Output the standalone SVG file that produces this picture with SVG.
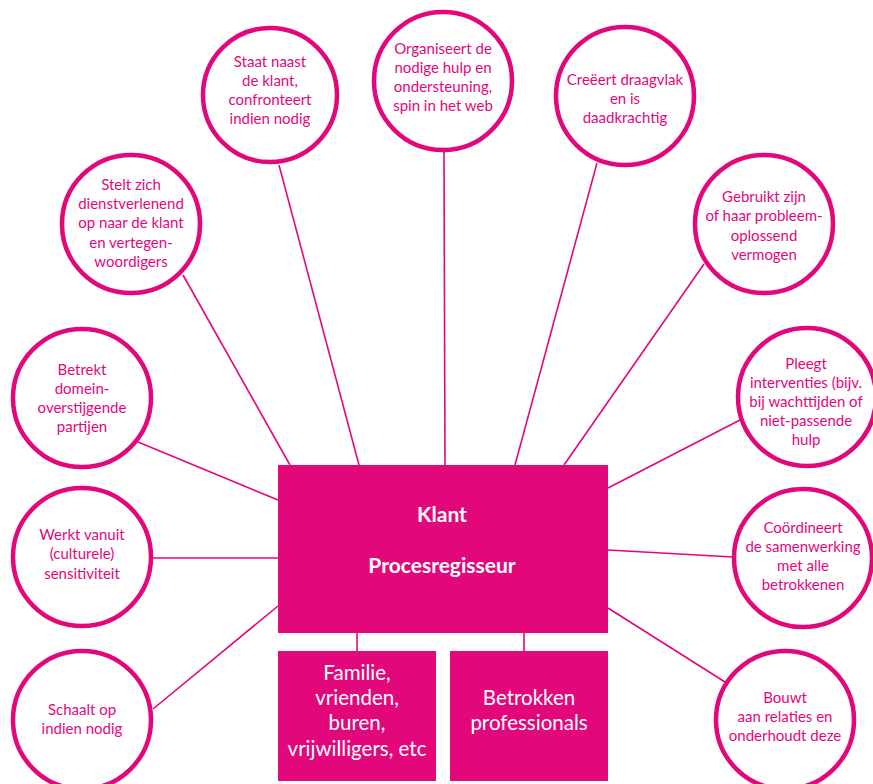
<svg xmlns="http://www.w3.org/2000/svg" width="873" height="784" viewBox="0 0 873 784">
<style>
.c{fill:#fff;stroke:#E2087C;stroke-width:4.5}
.t{font-family:Lato,"Open Sans",sans-serif;font-size:15px;fill:#E2087C;text-anchor:middle}
.b{fill:#E2087C}
.bt{font-family:Lato,"Open Sans",sans-serif;fill:#fff;text-anchor:middle}
.ln{stroke:#E2087C;stroke-width:1.6;fill:none}
</style>
<rect width="873" height="784" fill="#fff"/>
<g id="connectors" class="ln">
<line x1="279" y1="165" x2="359" y2="465"/>
<line x1="444" y1="151" x2="445" y2="465"/>
<line x1="597" y1="163" x2="515" y2="465"/>
<line x1="704" y1="264" x2="564" y2="465"/>
<line x1="183" y1="275" x2="290" y2="465"/>
<line x1="138" y1="442" x2="278" y2="500"/>
<line x1="153" y1="558" x2="278" y2="558"/>
<line x1="153" y1="709" x2="278" y2="606"/>
<line x1="608" y1="488" x2="740" y2="420"/>
<line x1="608" y1="550" x2="733" y2="557"/>
<line x1="608" y1="608" x2="725" y2="682"/>
<line x1="357" y1="633" x2="357" y2="651"/>
<line x1="524" y1="633" x2="524" y2="651"/>
</g>
<g id="n-staat"><circle class="c" cx="270" cy="95" r="67"/>
<text class="t"><tspan x="270" y="67">Staat naast</tspan><tspan x="270" y="86">de klant,</tspan><tspan x="270" y="105">confronteert</tspan><tspan x="270" y="124">indien nodig</tspan></text></g>
<g id="n-organiseert"><circle class="c" cx="443" cy="81" r="69"/>
<text class="t"><tspan x="443" y="54">Organiseert de</tspan><tspan x="443" y="73">nodige hulp en</tspan><tspan x="443" y="92">ondersteuning,</tspan><tspan x="443" y="111">spin in het web</tspan></text></g>
<g id="n-creeert"><circle class="c" cx="625" cy="96" r="69"/>
<text class="t"><tspan x="625" y="85">Creëert draagvlak</tspan><tspan x="625" y="104">en is</tspan><tspan x="625" y="123">daadkrachtig</tspan></text></g>
<g id="n-gebruikt"><circle class="c" cx="764" cy="224" r="69"/>
<text class="t"><tspan x="764" y="202">Gebruikt zijn</tspan><tspan x="764" y="221">of haar probleem-</tspan><tspan x="764" y="241">oplossend</tspan><tspan x="764" y="260">vermogen</tspan></text></g>
<g id="n-stelt"><circle class="c" cx="131" cy="224" r="69"/>
<text class="t"><tspan x="131" y="190">Stelt zich</tspan><tspan x="131" y="209">dienstverlenend</tspan><tspan x="131" y="228">op naar de klant</tspan><tspan x="131" y="248">en vertegen-</tspan><tspan x="131" y="267">woordigers</tspan></text></g>
<g id="n-betrekt"><circle class="c" cx="82" cy="398" r="69"/>
<text class="t"><tspan x="82" y="375">Betrekt</tspan><tspan x="82" y="394">domein-</tspan><tspan x="82" y="413">overstijgende</tspan><tspan x="82" y="432">partijen</tspan></text></g>
<g id="n-werkt"><circle class="c" cx="82" cy="557" r="69"/>
<text class="t"><tspan x="82" y="540">Werkt vanuit</tspan><tspan x="82" y="559">(culturele)</tspan><tspan x="82" y="579">sensitiviteit</tspan></text></g>
<g id="n-schaalt"><circle class="c" cx="82" cy="720" r="69"/>
<text class="t"><tspan x="82" y="715">Schaalt op</tspan><tspan x="82" y="734">indien nodig</tspan></text></g>
<g id="n-pleegt"><circle class="c" cx="807" cy="397" r="69"/>
<text class="t"><tspan x="806" y="369">Pleegt</tspan><tspan x="806" y="388">interventies (bijv.</tspan><tspan x="806" y="407">bij wachttijden of</tspan><tspan x="806" y="426">niet-passende</tspan><tspan x="806" y="445">hulp</tspan></text></g>
<g id="n-coordineert"><circle class="c" cx="803" cy="558" r="69"/>
<text class="t"><tspan x="803" y="533">Coördineert</tspan><tspan x="803" y="552">de samenwerking</tspan><tspan x="803" y="571">met alle</tspan><tspan x="803" y="590">betrokkenen</tspan></text></g>
<g id="n-bouwt"><circle class="c" cx="785" cy="720" r="69"/>
<text class="t"><tspan x="785" y="703">Bouwt</tspan><tspan x="785" y="722">aan relaties en</tspan><tspan x="785" y="741">onderhoudt deze</tspan></text></g>
<g id="n-centraal"><rect class="b" x="278" y="465" width="330" height="168"/>
<text class="bt" font-size="21" font-weight="bold"><tspan x="442" y="522">Klant</tspan><tspan x="442" y="573">Procesregisseur</tspan></text></g>
<g id="n-familie"><rect class="b" x="278" y="651" width="158" height="130"/>
<text class="bt" font-size="20.5"><tspan x="357" y="680">Familie,</tspan><tspan x="357" y="705">vrienden,</tspan><tspan x="357" y="730">buren,</tspan><tspan x="357" y="756">vrijwilligers, etc</tspan></text></g>
<g id="n-professionals"><rect class="b" x="450" y="651" width="158" height="130"/>
<text class="bt" font-size="20.5"><tspan x="529" y="705">Betrokken</tspan><tspan x="529" y="730">professionals</tspan></text></g>
</svg>
